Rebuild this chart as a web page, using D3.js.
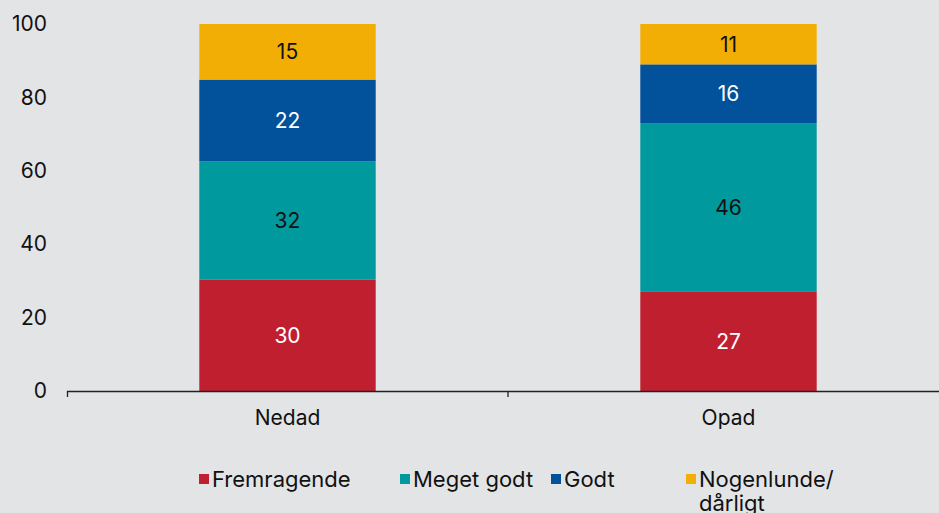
<!DOCTYPE html>
<html>
<head>
<meta charset="utf-8">
<script src="https://cdn.jsdelivr.net/npm/d3@7"></script>
<style>
  html, body { margin: 0; padding: 0; background: #e3e4e6; }
  svg { display: block; font-family: Inter, "Noto Sans", sans-serif; }
</style>
</head>
<body>
<svg id="chart" width="939" height="513"></svg>
<script>
const categories = ["Nedad", "Opad"];
const seriesNames = ["Fremragende", "Meget godt", "Godt", "Nogenlunde/ dårligt"];
const fremragende = [30, 27];
const megetGodt = [32, 46];
const godt = [22, 16];
const nogenlunde = [15, 11];
const yTicks = [0, 20, 40, 60, 80, 100];

const colors = ["#c01f30", "#00999d", "#01519b", "#f2ae04"];
const labelColors = ["#ffffff", "#111111", "#ffffff", "#111111"];

const seriesValues = [fremragende, megetGodt, godt, nogenlunde];
const rows = categories.map((c, i) => {
  const r = { cat: c };
  seriesNames.forEach((s, j) => r[s] = seriesValues[j][i]);
  return r;
});

const svg = d3.select("#chart");
const margin = { left: 67, right: -10, top: 24, bottom: 122 };
const W = 939, H = 513;

const x = d3.scaleBand().domain(categories).range([margin.left, W - margin.right]).paddingInner(0.6).paddingOuter(0.3);
const y = d3.scaleLinear().domain([0, 1]).range([H - margin.bottom, margin.top]);

const stack = d3.stack().keys(seriesNames).offset(d3.stackOffsetExpand);
const stacked = stack(rows);

const g = svg.append("g");
stacked.forEach((layer, j) => {
  const lg = g.append("g");
  lg.selectAll("rect").data(layer).join("rect")
    .attr("x", d => x(d.data.cat))
    .attr("width", x.bandwidth())
    .attr("y", d => y(d[1]))
    .attr("height", d => y(d[0]) - y(d[1]))
    .attr("fill", colors[j]);
  lg.selectAll("text").data(layer).join("text")
    .attr("x", d => x(d.data.cat) + x.bandwidth() / 2)
    .attr("y", d => (y(d[0]) + y(d[1])) / 2)
    .attr("dy", "0.35em")
    .attr("text-anchor", "middle")
    .attr("font-size", 21)
    .attr("fill", labelColors[j])
    .text(d => d.data[seriesNames[j]]);
});

// y axis labels
const yAxis = d3.axisLeft(d3.scaleLinear().domain([0, 100]).range(y.range()))
  .tickValues(yTicks).tickSize(0).tickPadding(20);
const ya = svg.append("g").attr("transform", `translate(${margin.left},0)`).call(yAxis);
ya.select(".domain").remove();
ya.selectAll("text").attr("font-size", 21).attr("fill", "#111").attr("font-family", "Inter, 'Noto Sans', sans-serif");

// x axis
const xAxis = d3.axisBottom(x).tickSize(0).tickSizeOuter(6).tickPadding(19);
const xa = svg.append("g").attr("transform", `translate(0,${y(0)})`).call(xAxis);
xa.select(".domain").attr("stroke", "#222").attr("stroke-width", 1.3);
xa.selectAll("text").attr("font-size", 21).attr("fill", "#111").attr("font-family", "Inter, 'Noto Sans', sans-serif");
// boundary ticks between categories
const step = x.step();
const bounds = categories.slice(1).map((c) => x(c) - (step - x.bandwidth()) / 2);
xa.selectAll(".bound").data(bounds).join("line")
  .attr("class", "bound")
  .attr("x1", d => d).attr("x2", d => d)
  .attr("y1", 0).attr("y2", 6)
  .attr("stroke", "#222").attr("stroke-width", 1.3);

// legend
const legendItems = [
  { lines: ["Fremragende"], x: 199 },
  { lines: ["Meget godt"], x: 400 },
  { lines: ["Godt"], x: 551 },
  { lines: ["Nogenlunde/", "dårligt"], x: 686 }
];
const leg = svg.append("g");
legendItems.forEach((it, i) => {
  const lg = leg.append("g").attr("transform", `translate(${it.x},479)`);
  lg.append("rect").attr("x", 0).attr("y", -5).attr("width", 10).attr("height", 10).attr("fill", colors[i]);
  const t = lg.append("text").attr("x", 13).attr("y", 0).attr("font-size", 22).attr("fill", "#111");
  it.lines.forEach((ln, k) => {
    t.append("tspan").attr("x", 13).attr("dy", k === 0 ? "0.35em" : "1.1em").text(ln);
  });
});
</script>
</body>
</html>
